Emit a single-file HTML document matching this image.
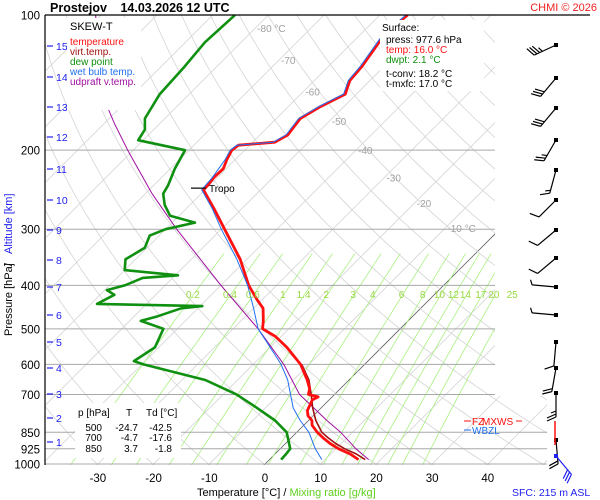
<!DOCTYPE html>
<html><head><meta charset="utf-8">
<style>
html,body{margin:0;padding:0;background:#fff;}
svg{display:block;font-family:"Liberation Sans",sans-serif;}
</style></head>
<body>
<svg id="chart" width="600" height="500" viewBox="0 0 600 500" xmlns="http://www.w3.org/2000/svg">
<defs><clipPath id="plotclip"><path d="M45,15 H495 V396 H547 V465 H45 Z"/></clipPath></defs>
<rect x="0" y="0" width="600" height="500" fill="#fff"/>
<g id="grid" clip-path="url(#plotclip)"></g>
<g id="plines"></g>
<g id="series" clip-path="url(#plotclip)"></g>
<g id="labels"></g>
<g id="barbs"></g>

<line x1="45" y1="15" x2="590" y2="15" stroke="#000" stroke-width="1.2"/>
<line x1="45" y1="15" x2="45" y2="465" stroke="#000" stroke-width="1.2"/>

<text x="50" y="12" font-size="12.5" font-weight="bold">Prostejov    <tspan dx="10">14.03.2026 12 UTC</tspan></text>
<text x="597" y="11" font-size="11" fill="#f02020" text-anchor="end">CHMI © 2026</text>

<rect x="67" y="18" width="74" height="92" fill="#fff"/>
<g font-size="10">
<text x="70" y="30" font-size="11" fill="#000">SKEW-T</text>
<text x="70" y="45" fill="#ff1010">temperature</text>
<text x="70" y="55" fill="#a01010">virt.temp.</text>
<text x="70" y="65" fill="#109010">dew point</text>
<text x="70" y="75" fill="#2070f0">wet bulb temp.</text>
<text x="70" y="85" fill="#a010a0">udpraft v.temp.</text>
</g>

<rect x="380" y="20" width="104" height="71" fill="#fff"/>
<g font-size="10">
<text x="382" y="31">Surface:</text>
<text x="386" y="43">press: 977.6 hPa</text>
<text x="386" y="53" fill="#ff1010">temp: 16.0 °C</text>
<text x="386" y="63" fill="#109010">dwpt: 2.1 °C</text>
<text x="386" y="77">t-conv: 18.2 °C</text>
<text x="386" y="87">t-mxfc: 17.0 °C</text>
</g>

<rect x="75" y="403" width="106" height="55" fill="#fff"/>
<g font-size="10">
<text x="78" y="416">p [hPa]</text>
<text x="126" y="416">T</text>
<text x="146" y="416">Td [°C]</text>
<g text-anchor="end">
<text x="102" y="431">500</text><text x="138" y="431">-24.7</text><text x="172" y="431">-42.5</text>
<text x="102" y="441">700</text><text x="138" y="441">-4.7</text><text x="172" y="441">-17.6</text>
<text x="102" y="452">850</text><text x="138" y="452">3.7</text><text x="172" y="452">-1.8</text>
</g></g>

<g transform="translate(12,258) rotate(-90)" font-size="11">
<text x="-78" y="0" text-anchor="start">Pressure [hPa]</text>
<text x="-8" y="0" fill="#000">/</text>
<text x="4" y="0" fill="#2020f0">Altitude [km]</text>
</g>
<text x="197" y="496" font-size="11">Temperature [°C]  /  <tspan fill="#60d020">Mixing ratio [g/kg]</tspan></text>
<text x="512" y="496" font-size="10.5" fill="#2020f0">SFC: 215 m ASL</text>

<g font-size="10">
<line x1="464" y1="421" x2="471" y2="421" stroke="#ff1010"/><text x="472" y="425" fill="#ff1010">FZ</text>
<text x="482" y="425" fill="#ff1010">MXWS</text><line x1="516" y1="421" x2="522" y2="421" stroke="#ff1010"/>
<line x1="464" y1="430" x2="471" y2="430" stroke="#2070f0"/><text x="472" y="434" fill="#2070f0">WBZL</text>
</g>

<script>
// ---- data ----
const tempP = [977.6,950,925,900,875,850,820,800,780,760,740,720,709,700,680,650,600,550,520,500,480,450,430,400,350,300,270,245,240,230,220,210,200,195,192,185,170,160,150,140,130,120,110,100];
const tempT = [16.0,13.5,10.5,8.0,5.8,3.7,1.5,0.6,-1.0,-2.0,-2.5,-3.0,-2.5,-4.7,-5.5,-7.5,-11.5,-17.0,-21.0,-24.7,-26.0,-28.3,-31.0,-35.0,-41.2,-49.4,-55.0,-60.3,-60.3,-60.6,-60.5,-61.5,-62.3,-62.0,-56.0,-55.0,-55.7,-54.2,-52.0,-53.6,-54.0,-54.8,-55.7,-55.0];
const virtP = [977.6,950,925,900,875,850,800,750,700,650,600];
const virtT = [17.2,14.6,11.6,9.0,6.7,4.5,1.3,-1.5,-4.2,-7.2,-11.3];
const dewP = [977.6,950,925,850,800,750,700,650,600,590,550,500,480,470,450,445,440,420,410,400,385,380,370,350,330,310,300,290,280,265,250,240,220,200,190,180,170,150,130,115,100];
const dewT = [2.1,2.0,1.8,-1.8,-6.0,-11.5,-17.6,-25.8,-39.7,-42.0,-40.7,-42.5,-48.0,-46.0,-43.0,-39.6,-58.9,-57.4,-59.6,-57.2,-55.4,-49.5,-60.0,-61.8,-60.4,-61.7,-60.0,-55.9,-61.6,-64.5,-66.8,-67.4,-69.2,-70.7,-80.9,-81.6,-83.6,-85.3,-85.8,-86.5,-86.0];
const wbP = [977.6,925,850,800,750,700,650,600,550,500,450,400,350,300,270,245,230,210,200,195,192,185,170,160,150,140,130,120,110,100];
const wbT = [9.4,6.3,2.2,-1.5,-5.0,-7.9,-11.0,-15.0,-20.0,-25.5,-30.0,-35.2,-41.8,-50.0,-55.3,-60.6,-60.9,-61.8,-62.6,-62.3,-56.3,-55.3,-56.0,-54.5,-52.3,-53.9,-54.3,-55.1,-56.0,-55.3];
const parP = [977.6,925,850,800,700,600,500,400,300,250,200,175,150,125,100];
const parT = [17.8,13.6,7.9,3.3,-6.3,-14.5,-25.5,-40.0,-58.0,-68.8,-81.0,-88.0,-95.7,-102.8,-111.0];
const pLevels = [100,200,300,400,500,600,700,850,925,1000];
const tTicks = [-30,-20,-10,0,10,20,30,40];
const mixRatios = [0.2,0.4,0.6,1,1.4,2,3,4,6,8,10,12,14,17,20,25];
const altKm = [1,2,3,4,5,6,7,8,9,10,11,12,13,14,15];
const altY = [442,418,394,368,342,315,287,260,230,200,169,137,107,77,46];
const isoLabels = ["-80 °C","-70","-60","-50","-40","-30","-20","-10 °C"];
const isoLabelT = [-80,-70,-60,-50,-40,-30,-20,-10];
const isoLabelP = [107,126,148,172,200,230,262,298];
const barbY = [45,78,108,140,170,200,230,258,287,315,342,368,393,440,456];
const barbDir = [245,220,220,210,195,225,230,230,275,275,185,190,180,175,140];
const barbSpd = [35,30,30,25,15,10,10,10,5,5,10,20,25,20,30];

// ---- axes ----
const NS="http://www.w3.org/2000/svg";
function yP(p){return 15+449*Math.log10(p/100);}
function xT(t,p){return 265+5.57*t+(464-yP(p));}
function mk(tag,attrs,parent){const e=document.createElementNS(NS,tag);for(const k in attrs)e.setAttribute(k,attrs[k]);parent.appendChild(e);return e;}
const grid=document.getElementById('grid'),pl=document.getElementById('plines'),ser=document.getElementById('series'),lab=document.getElementById('labels'),bg=document.getElementById('barbs');

for(let t=-120;t<=50;t+=10){
  const l=mk('line',{x1:xT(t,1050),y1:yP(1050),x2:xT(t,100),y2:yP(100),stroke:t===0?'#606060':'#d4d4d4','stroke-width':0.8},grid);
  
  
}
for(let th=233;th<=493;th+=10){
  let d='';
  for(let p=1050;p>=100;p-=10){const t=th*Math.pow(p/1000,0.286)-273.15;d+=(d?'L':'M')+xT(t,p).toFixed(1)+','+yP(p).toFixed(1);}
  const a=mk('path',{d:d,fill:'none',stroke:'#d4d4d4','stroke-width':0.8},grid);
  
  
}
function tdOf(w,p){const e=w*p/(622+w);const g=Math.log(e/6.112);return 243.5*g/(17.67-g);}
mixRatios.forEach(w=>{
  let d='';
  for(let p=1050;p>=340;p-=10){d+=(d?'L':'M')+xT(tdOf(w,p),p).toFixed(1)+','+yP(p).toFixed(1);}
  const m=mk('path',{d:d,fill:'none',stroke:'#a8f080','stroke-width':0.8},grid);
  
  
  const tx=mk('text',{x:xT(tdOf(w,410),410)-4,y:298,'font-size':10,fill:'#98d840','text-anchor':'middle'},lab);
  tx.textContent=String(w);
  
  
});
isoLabels.forEach((s,i)=>{
  const tx=mk('text',{x:xT(isoLabelT[i],isoLabelP[i])+2,y:yP(isoLabelP[i])+4,'font-size':10,fill:'#a0a0a0'},lab);
  tx.textContent=s;
  
  
});
pLevels.forEach(p=>{
  const y=yP(p);
  if(p>100){const l=mk('line',{x1:45,y1:y,x2:p>=850?547:495,y2:y,stroke:'#a8a8a8','stroke-width':1},pl);
  
  }
  const tx=mk('text',{x:40,y:y+4.5,'font-size':11.5,'text-anchor':'end'},lab);
  tx.textContent=String(p);
  
  
});
tTicks.forEach(t=>{
  const tx=mk('text',{x:xT(t,1000),y:482,'font-size':11.5,'text-anchor':'middle'},lab);
  tx.textContent=String(t);
  
  
});
altKm.forEach((k,i)=>{
  const l=mk('line',{x1:47,y1:altY[i],x2:53,y2:altY[i],stroke:'#2020f0','stroke-width':1.2},lab);
  
  
  const tx=mk('text',{x:56,y:altY[i]+4,'font-size':10.5,fill:'#2020f0'},lab);
  tx.textContent=String(k);
  
  
});
function line(P,T,color,w,name){
  let d='';P.forEach((p,i)=>{d+=(d?'L':'M')+xT(T[i],p).toFixed(1)+','+yP(p).toFixed(1);});
  const e=mk('path',{d:d,fill:'none',stroke:color,'stroke-width':w,'stroke-linejoin':'round'},ser);
  
  
}
line(parP,parT,'#a010a0',1,'updraft-line');
line(dewP,dewT,'#109010',2.6,'dew-point-line');
line(virtP,virtT,'#a01010',1.6,'virt-temp-line');
line(tempP,tempT,'#ff1010',2.8,'temperature-line');
line(wbP,wbT,'#2070f0',1,'wet-bulb-line');
const ty=yP(243);
const tl=mk('line',{x1:xT(-60.3,243)-14,y1:ty,x2:xT(-60.3,243)+1,y2:ty,stroke:'#000','stroke-width':1.2},lab);


const tt=mk('text',{x:xT(-60.3,243)+4,y:ty+4,'font-size':10},lab);
tt.textContent='Tropo';


barbY.forEach((y,i)=>{
  const g=mk('g',{},bg);
  
  
  const col=i===barbY.length-1?'#2020f0':'#000';
  const a=barbDir[i]*Math.PI/180;
  const ux=Math.sin(a),uy=-Math.cos(a);
  const L=24,x0=556,y0=y;
  const x1=x0+ux*L,y1=y0+uy*L;
  mk('line',{x1:x0,y1:y0,x2:x1,y2:y1,stroke:col,'stroke-width':1.2},g);
  mk('rect',{x:x0-2,y:y0-2,width:4,height:4,fill:col},g);
  let s=barbSpd[i],pos=0;
  const px=-uy,py=ux;
  while(s>=10){const bx=x1-ux*pos,by=y1-uy*pos;mk('line',{x1:bx,y1:by,x2:bx+px*9+ux*4,y2:by+py*9+uy*4,stroke:col,'stroke-width':1.2},g);pos+=3;s-=10;}
  if(s>=5){const bx=x1-ux*pos,by=y1-uy*pos;mk('line',{x1:bx,y1:by,x2:bx+px*5+ux*2,y2:by+py*5+uy*2,stroke:col,'stroke-width':1.2},g);}
});
const fz=mk('line',{x1:555,y1:421,x2:555,y2:445,stroke:'#ff1010','stroke-width':1.5},bg);


</script>
</svg>
</body></html>
